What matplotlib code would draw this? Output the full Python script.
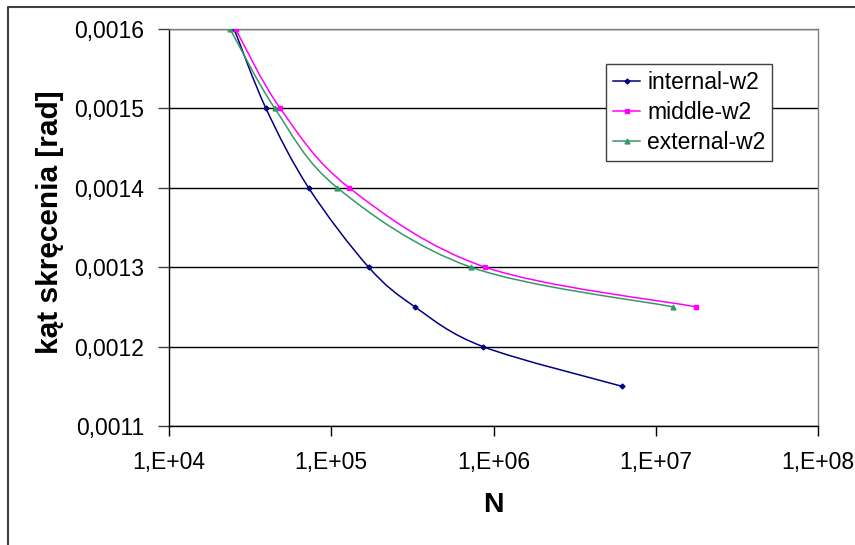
import numpy as np
import matplotlib
matplotlib.use("Agg")
import matplotlib.pyplot as plt
from matplotlib.path import Path
from matplotlib.patches import PathPatch
from matplotlib.lines import Line2D
from matplotlib.ticker import FixedLocator, FixedFormatter, NullLocator

plt.rcParams['font.family'] = ['Liberation Sans', 'DejaVu Sans']

# data
n_internal = [2.52e4, 3.96e4, 7.25e4, 1.70e5, 3.28e5, 8.61e5, 6.19e6]
k_internal = [0.0016, 0.0015, 0.0014, 0.0013, 0.00125, 0.0012, 0.00115]
n_middle = [2.57e4, 4.85e4, 1.29e5, 8.90e5, 1.78e7]
k_middle = [0.0016, 0.0015, 0.0014, 0.0013, 0.00125]
n_external = [2.38e4, 4.49e4, 1.09e5, 7.27e5, 1.28e7]
k_external = [0.0016, 0.0015, 0.0014, 0.0013, 0.00125]

labels = ['internal-w2', 'middle-w2', 'external-w2']
colors = ['#000080', '#FF00FF', '#339966']
markers = ['D', 's', '^']
msizes = [2.5, 3.5, 3.5]

y_ticks = [0.0011, 0.0012, 0.0013, 0.0014, 0.0015, 0.0016]
y_labels = ['0,0011', '0,0012', '0,0013', '0,0014', '0,0015', '0,0016']
x_ticks = [1e4, 1e5, 1e6, 1e7, 1e8]
x_labels = ['1,E+04', '1,E+05', '1,E+06', '1,E+07', '1,E+08']


# smoothed line like Excel: cubic bezier through points (catmull-rom style),
# built in log10(x) space so it looks right on the log axis
def smooth_path(xs, ys):
    u = np.log10(np.asarray(xs, float))
    v = np.asarray(ys, float)
    pts = np.column_stack([u, v])
    n = len(pts)
    verts = [pts[0]]
    codes = [Path.MOVETO]
    for i in range(n - 1):
        p0 = pts[i - 1] if i > 0 else pts[i]
        p1 = pts[i]
        p2 = pts[i + 1]
        p3 = pts[i + 2] if i + 2 < n else pts[i + 1]
        c1 = p1 + (p2 - p0) / 6.0
        c2 = p2 - (p3 - p1) / 6.0
        verts += [c1, c2, p2]
        codes += [Path.CURVE4] * 3
    verts = np.array(verts)
    verts[:, 0] = 10 ** verts[:, 0]
    return Path(verts, codes)


fig = plt.figure(figsize=(8.55, 5.45), dpi=100)
ax = fig.add_axes([169 / 855, 1 - 426 / 545, 649 / 855, 397 / 545])
ax.set_xscale('log')
ax.set_xlim(1e4, 1e8)
ax.set_ylim(0.0011, 0.0016)

series = [(n_internal, k_internal), (n_middle, k_middle), (n_external, k_external)]
handles = []
for (xs, ys), lab, c, m, ms in zip(series, labels, colors, markers, msizes):
    ax.add_patch(PathPatch(smooth_path(xs, ys), fill=False, edgecolor=c, lw=1.1, zorder=3))
    ax.plot(xs, ys, ls='none', marker=m, ms=ms, color=c, zorder=4)
    handles.append(Line2D([], [], color=c, lw=1.1, marker=m, ms=ms))

ax.yaxis.set_major_locator(FixedLocator(y_ticks))
ax.yaxis.set_major_formatter(FixedFormatter(y_labels))
ax.xaxis.set_major_locator(FixedLocator(x_ticks))
ax.xaxis.set_major_formatter(FixedFormatter(x_labels))
ax.xaxis.set_minor_locator(NullLocator())
ax.yaxis.set_minor_locator(NullLocator())

ax.grid(axis='y', color='black', lw=1.0)
ax.set_axisbelow(True)
ax.tick_params(axis='y', direction='out', length=8, width=1, color='#404040', pad=10, labelsize=16.5)
ax.tick_params(axis='x', direction='out', length=7, width=1, color='black', pad=11, labelsize=16.5)

for s in ['left', 'bottom']:
    ax.spines[s].set_color('black')
    ax.spines[s].set_linewidth(1.0)
for s in ['right', 'top']:
    ax.spines[s].set_color('#808080')
    ax.spines[s].set_linewidth(1.0)

ax.set_ylabel('kąt skręcenia [rad]', fontsize=21.5, fontweight='bold', va='center')
ax.yaxis.set_label_coords((50 - 169) / 649, (426 - 222.5) / 397)
ax.set_xlabel('N', fontsize=20.5, fontweight='bold', va='center')
ax.xaxis.set_label_coords(0.5, (426 - 504.5) / 397)

leg = ax.legend(handles, labels, loc='upper left', bbox_to_anchor=((606 - 169) / 649, (426 - 64) / 397),
                borderaxespad=0, fontsize=16.5, frameon=True, fancybox=False, framealpha=1,
                edgecolor='#404040', handlelength=1.2, handletextpad=0.3, labelspacing=0.3,
                borderpad=0.3)
leg.get_frame().set_linewidth(1.0)

# chart area border (left and top visible)
fig.add_artist(Line2D([8 / 855, 8 / 855, 1.0], [0.0, 1 - 7 / 545, 1 - 7 / 545],
                      transform=fig.transFigure, color='#404040', lw=1.5))

fig.savefig('out.png', dpi=100)
